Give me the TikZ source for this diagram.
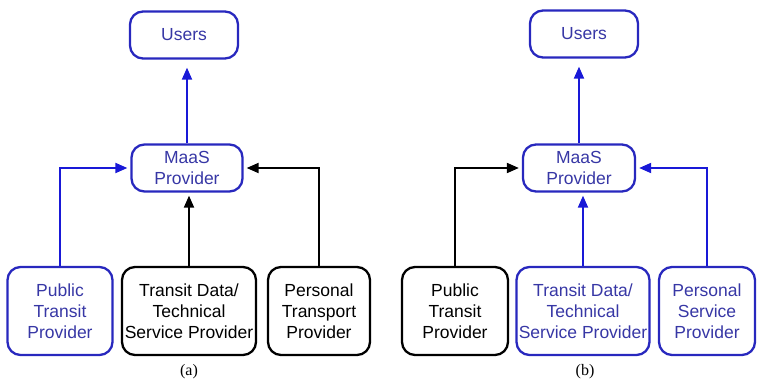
\documentclass[tikz,border=0pt]{standalone}
\usepackage{fontspec}
\setmainfont{Liberation Sans}
\newfontfamily\capfont{Liberation Serif}
\usetikzlibrary{arrows.meta}
\definecolor{boxblue}{RGB}{40,40,190}
\definecolor{lineblue}{RGB}{25,25,215}
\definecolor{textblue}{RGB}{55,55,165}

\begin{document}
\begin{tikzpicture}[x=1pt, y=-1pt, font=\fontsize{17.5}{21}\selectfont,
    box/.style={draw, line width=2.3pt, rounded corners=13pt, align=center, inner sep=0pt},
    bluebox/.style={box, draw=boxblue, text=textblue},
    topbox/.style={minimum height=47pt},
    footbox/.style={minimum height=88pt},
    link/.style={line width=1.9pt, shorten >=3pt, -{Triangle[length=12pt,width=10pt]}},
    bluelink/.style={link, color=lineblue},
    caption/.style={font=\capfont\fontsize{16}{18}\selectfont}]
\useasboundingbox (0,0) rectangle (757,383);

% (a)
\node[bluebox, topbox, minimum width=108pt] (ua) at (184,35) {Users};
\node[bluebox, topbox, minimum width=111pt] (ma) at (187,168) {MaaS\\Provider};
\node[bluebox, footbox, minimum width=105pt] (pa) at (60,311) {Public\\Transit\\Provider};
\node[box, footbox, minimum width=134pt] (ta) at (189,311) {Transit Data/\\Technical\\Service Provider};
\node[box, footbox, minimum width=102pt] (ra) at (319,311) {Personal\\Transport\\Provider};
\node[caption] (capa) at (189,372) {(a)};

\draw[bluelink, shorten >=8pt] (ma.north) -- (ma.north |- ua.south);
\draw[bluelink] (pa.north) |- (ma.west);
\draw[link] (ta.north) -- (ta.north |- ma.south);
\draw[link] (ra.north) |- (ma.east);

% (b)
\node[bluebox, topbox, minimum width=108pt] (ub) at (584,34) {Users};
\node[bluebox, topbox, minimum width=112pt] (mb) at (579,168) {MaaS\\Provider};
\node[box, footbox, minimum width=106pt] (pb) at (455,311) {Public\\Transit\\Provider};
\node[bluebox, footbox, minimum width=133pt] (tb) at (583,311) {Transit Data/\\Technical\\Service Provider};
\node[bluebox, footbox, minimum width=96pt] (sb) at (707,311) {Personal\\Service\\Provider};
\node[caption] (capb) at (585,372) {(b)};

\draw[bluelink, shorten >=8pt] (mb.north) -- (mb.north |- ub.south);
\draw[link] (pb.north) |- (mb.west);
\draw[bluelink] (tb.north) -- (tb.north |- mb.south);
\draw[bluelink] (sb.north) |- (mb.east);
\end{tikzpicture}
\end{document}
